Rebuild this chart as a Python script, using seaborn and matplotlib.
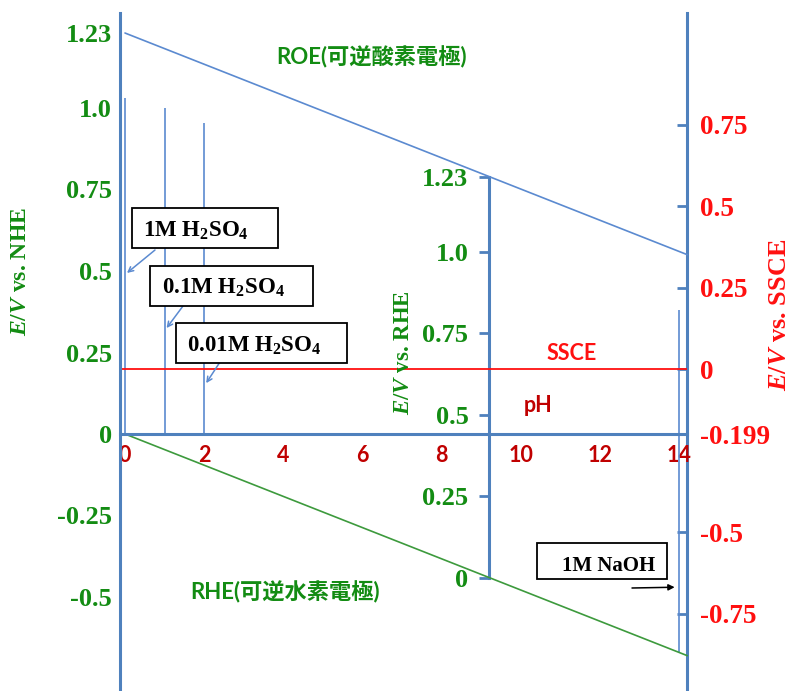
import numpy as np
import pandas as pd
import matplotlib
matplotlib.use("Agg")
import matplotlib.pyplot as plt
import seaborn as sns
from matplotlib.patches import Rectangle

# ---- data -------------------------------------------------------------
ph_ends = [0.0, 14.2]                 # pH range of the two electrode lines
roe_nhe = [1.23, 0.55]                # ROE potential vs NHE at the ends
rhe_nhe = [0.0, -0.68]                # RHE potential vs NHE at the ends
ssce_vs_nhe = 0.199                   # SSCE reference potential vs NHE

ph_ticks = [0, 2, 4, 6, 8, 10, 12, 14]
nhe_ticks = [1.23, 1.0, 0.75, 0.5, 0.25, 0, -0.25, -0.5]
nhe_labels = ["1.23", "1.0", "0.75", "0.5", "0.25", "0", "-0.25", "-0.5"]
rhe_ticks = [1.23, 1.0, 0.75, 0.5, 0.25, 0]
rhe_labels = ["1.23", "1.0", "0.75", "0.5", "0.25", "0"]
ssce_ticks = [0.75, 0.5, 0.25, 0, -0.199, -0.5, -0.75]
ssce_labels = ["0.75", "0.5", "0.25", "0", "-0.199", "-0.5", "-0.75"]
rhe_axis_ph = 9.2

solutions = ["1M H$_2$SO$_4$", "0.1M H$_2$SO$_4$", "0.01M H$_2$SO$_4$", "1M NaOH"]
solution_ph = [0, 1, 2, 14]
solution_top = [1.03, 1.0, 0.955, 0.38]
solution_bottom = [0, 0, 0, -0.67]
arrow_e = [0.494, 0.325, 0.156, -0.47]

# ---- style ------------------------------------------------------------
sns.set_style("white")
plt.rcParams["font.family"] = ["Liberation Serif", "DejaVu Sans"]
plt.rcParams["mathtext.fontset"] = "custom"
plt.rcParams["mathtext.it"] = "Liberation Serif:italic:bold"
plt.rcParams["mathtext.rm"] = "Liberation Serif:bold"
plt.rcParams["mathtext.bf"] = "Liberation Serif:bold"

AXIS_BLUE = "#4f81bd"
LINE_BLUE = "#5b8ad0"
LINE_GREEN = "#3d9a3d"
TXT_GREEN = "#138c13"
RED = "#ff1010"
DARK_RED = "#c00000"
SANS = ["Lato", "Noto Sans CJK JP"]
SERIF = ["Liberation Serif", "DejaVu Serif"]

W, H = 790, 691
PX0, PXS = 125.0, 39.6     # pixel of pH 0, pixels per pH unit
PY0, PYS = 434.0, 326.0    # pixel of 0 V, pixels per volt

fig = plt.figure(figsize=(W / 100, H / 100), dpi=100)
ax = fig.add_axes([0, 0, 1, 1])
ax.set_facecolor("white")
xlim = (-PX0 / PXS, (W - PX0) / PXS)
ylim = ((PY0 - H) / PYS, PY0 / PYS)
ax.set_xlim(*xlim)
ax.set_ylim(*ylim)

left_ph = -0.126
right_ph = 14.2
top_e = 1.29


def fx(x):
    return x / W


def fy(y):
    return 1 - y / H


# ---- electrode lines ---------------------------------------------------
lines = pd.DataFrame({
    "pH": ph_ends + ph_ends,
    "E": roe_nhe + rhe_nhe,
    "electrode": ["ROE", "ROE", "RHE", "RHE"],
})
sns.lineplot(data=lines, x="pH", y="E", hue="electrode",
             palette={"ROE": LINE_BLUE, "RHE": LINE_GREEN},
             legend=False, ax=ax, linewidth=1.2, zorder=3)
ax.set_xlabel("")
ax.set_ylabel("")

ax.hlines(ssce_vs_nhe, left_ph, right_ph, color=RED, lw=1.3, zorder=3)
ax.vlines(solution_ph, solution_bottom, solution_top, color=LINE_BLUE,
          lw=1.2, zorder=2)

# ---- NHE axis (left) and pH axis (bottom) ------------------------------
for side in ("top", "right"):
    ax.spines[side].set_visible(False)
ax.spines["left"].set_position(("data", left_ph))
ax.spines["left"].set_bounds(ylim[0], top_e)
ax.spines["bottom"].set_position(("data", 0))
ax.spines["bottom"].set_bounds(left_ph, right_ph)
for side in ("left", "bottom"):
    ax.spines[side].set_color(AXIS_BLUE)
    ax.spines[side].set_linewidth(2.2)
    ax.spines[side].set_zorder(4)

ax.set_yticks(nhe_ticks, labels=nhe_labels, fontsize=19, fontweight="bold",
              family=SERIF, color=TXT_GREEN)
ax.tick_params(axis="y", direction="in", length=7.5, width=2,
               color=AXIS_BLUE, pad=6)
ax.yaxis.get_major_ticks()[0].tick1line.set_visible(False)

ax.set_xticks(ph_ticks, labels=[str(p) for p in ph_ticks], fontsize=15.5,
              fontweight="bold", family=SANS, color=DARK_RED)
ax.tick_params(axis="x", direction="in", length=7.5, width=2,
               color=AXIS_BLUE, pad=8)

# ---- RHE axis at pH 9.2 -------------------------------------------------
rhe_off = -np.interp(rhe_axis_ph, ph_ends, rhe_nhe)
loc_rhe = (rhe_axis_ph - xlim[0]) / (xlim[1] - xlim[0])
sec_rhe = ax.secondary_yaxis(loc_rhe, functions=(lambda e: e + rhe_off,
                                                  lambda r: r - rhe_off))
sec_rhe.set_alignment("left")
sec_rhe.spines["left"].set_bounds(0, 1.23)
sec_rhe.spines["left"].set_color(AXIS_BLUE)
sec_rhe.spines["left"].set_linewidth(2.2)
sec_rhe.set_yticks(rhe_ticks, labels=rhe_labels, fontsize=19,
                   fontweight="bold", family=SERIF, color=TXT_GREEN)
sec_rhe.tick_params(axis="y", direction="out", length=7.5, width=2,
                    color=AXIS_BLUE, pad=7.5)

# ---- SSCE axis (right) ---------------------------------------------------
loc_ssce = (right_ph - xlim[0]) / (xlim[1] - xlim[0])
sec_ssce = ax.secondary_yaxis(loc_ssce, functions=(lambda e: e - ssce_vs_nhe,
                                                    lambda s: s + ssce_vs_nhe))
sec_ssce.set_alignment("right")
sec_ssce.spines["right"].set_bounds(ylim[0] - ssce_vs_nhe, top_e - ssce_vs_nhe)
sec_ssce.spines["right"].set_color(AXIS_BLUE)
sec_ssce.spines["right"].set_linewidth(2.2)
sec_ssce.set_yticks(ssce_ticks, labels=ssce_labels, fontsize=19.5,
                    fontweight="bold", family=SERIF, color=RED)
sec_ssce.tick_params(axis="y", direction="in", length=7.5, width=2,
                     color=AXIS_BLUE, pad=9)

# ---- axis titles -------------------------------------------------------
fig.text(fx(21), fy(272), r"$E/V$ vs. NHE", rotation=90, ha="center",
         va="center", fontsize=17, fontweight="bold", family=SERIF,
         color=TXT_GREEN)
fig.text(fx(403), fy(353), r"$E/V$ vs. RHE", rotation=90, ha="center",
         va="center", fontsize=16.5, fontweight="bold", family=SERIF,
         color=TXT_GREEN)
fig.text(fx(779), fy(315), r"$E/V$ vs. SSCE", rotation=90, ha="center",
         va="center", fontsize=19, fontweight="bold", family=SERIF,
         color=RED)

# ---- in-plot labels ------------------------------------------------------
fig.text(fx(372), fy(57), "ROE(可逆酸素電極)", ha="center", va="center",
         fontsize=16, fontweight="bold", family=SANS, color=TXT_GREEN)
fig.text(fx(285), fy(592), "RHE(可逆水素電極)", ha="center", va="center",
         fontsize=16, fontweight="bold", family=SANS, color=TXT_GREEN)
fig.text(fx(572), fy(353), "SSCE", ha="center", va="center",
         fontsize=15.5, fontweight="bold", family=SANS, color=RED)
fig.text(fx(538), fy(405), "pH", ha="center", va="center",
         fontsize=15.5, fontweight="bold", family=SANS, color=DARK_RED)

# ---- solution boxes with arrows -----------------------------------------
boxes = [(132, 208, 278, 248), (150, 266, 313, 306),
         (176, 323, 347, 363), (537, 543, 667, 579)]
text_pos = [(143, 237, 16.5), (162, 294, 16.5), (187, 352, 16.5),
            (562, 571, 15)]
arrow_start = [(155, 250), (183, 306), (220, 362), (632, 588)]

for i, name in enumerate(solutions):
    x0, y0, x1, y1 = boxes[i]
    ax.add_patch(Rectangle((fx(x0), fy(y1)), (x1 - x0) / W, (y1 - y0) / H,
                           transform=fig.transFigure, facecolor="white",
                           edgecolor="black", lw=1.3, zorder=6))
    tx, ty, fs = text_pos[i]
    ax.text(fx(tx), fy(ty), name, transform=fig.transFigure, ha="left",
            va="baseline", fontsize=fs, fontweight="bold", family=SERIF,
            color="black", zorder=7)
    sx, sy = arrow_start[i]
    is_base = i == 3
    ax.annotate("", xy=(solution_ph[i] - (0.12 if is_base else -0.05), arrow_e[i]),
                xycoords="data", xytext=(sx, H - sy),
                textcoords="figure pixels",
                arrowprops=dict(arrowstyle="-|>" if is_base else "->",
                                color="black" if is_base else LINE_BLUE,
                                lw=1.1, shrinkA=0, shrinkB=0,
                                mutation_scale=9),
                zorder=5)

fig.savefig("out.png", dpi=100, facecolor="white")
